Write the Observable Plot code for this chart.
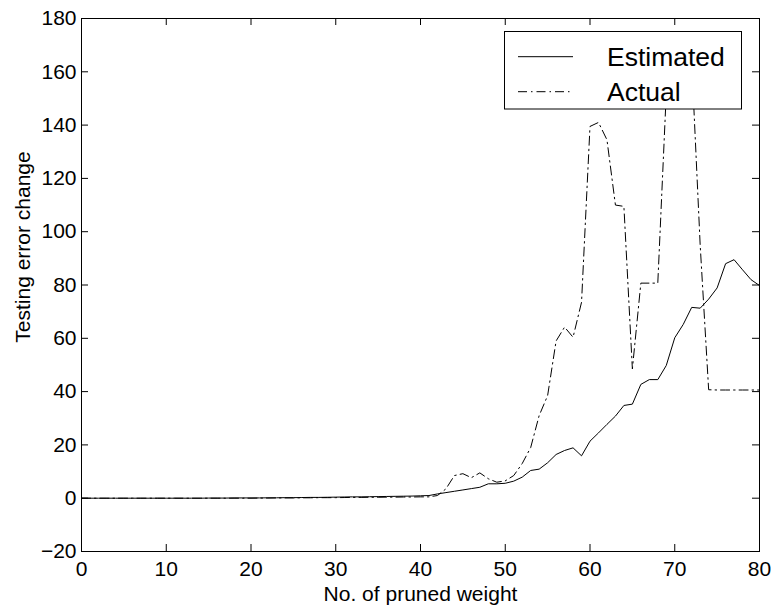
<!DOCTYPE html>
<html><head><meta charset="utf-8">
<script src="https://cdn.jsdelivr.net/npm/d3@7"></script>
<script src="https://cdn.jsdelivr.net/npm/@observablehq/plot@0.6"></script>
<style>html,body{margin:0;padding:0;background:#fff}</style>
</head><body><div id="chart"></div>
<script>
const xValues = d3.range(0, 81);
const estimated = [
  0,0,0,0,0,0,0,0,0,0,0,
  0,0,0,0,0.05,0.05,0.05,0.1,0.1,0.1,
  0.1,0.15,0.15,0.2,0.2,0.25,0.3,0.3,0.35,0.4,
  0.45,0.5,0.5,0.55,0.6,0.65,0.7,0.75,0.8,0.9,
  1.0,1.6,2.1,2.6,3.1,3.6,4.1,5.4,5.4,5.6,
  6.4,7.9,10.4,10.9,13.3,16.4,17.9,18.9,15.9,21.4,
  24.5,27.7,30.8,34.8,35.3,42.7,44.5,44.5,49.8,60.2,
  65.2,71.6,71.3,74.7,78.9,88,89.5,85.7,82,79.8
];
const actual = [
  0,0,0,0,0,0,0,0,0,0,0,
  0,0,0,0,0,0,0,0,0,0,
  0.05,0.05,0.1,0.1,0.1,0.15,0.15,0.2,0.2,0.2,
  0.25,0.3,0.3,0.35,0.35,0.4,0.4,0.45,0.45,0.5,
  0.5,1.0,3.5,8.5,9.2,7.7,9.5,7.3,6.0,6.5,
  8.5,13,19,31,38.5,59,64.2,60.4,73.5,139.5,
  141,134.5,110,109.5,48.5,80.7,80.7,80.7,152,160,
  162,164,95,40.7,40.6,40.6,40.6,40.6,40.6,40.6
];
const seriesNames = ["Estimated", "Actual"];
const xTicks = [0,10,20,30,40,50,60,70,80];
const yTicks = [-20,0,20,40,60,80,100,120,140,160,180];
const xLabel = "No. of pruned weight";
const yLabel = "Testing error change";

const W = 775, H = 610, mL = 81, mR = 16, mT = 18, mB = 59;
const plotW = W - mL - mR, plotH = H - mT - mB, tickLen = 7;
const font = "'Liberation Sans', Arial, Helvetica, sans-serif";

const rows = xValues.flatMap((x, i) => [
  {x, y: estimated[i], s: seriesNames[0]},
  {x, y: actual[i], s: seriesNames[1]}
]);

const chart = Plot.plot({
  width: W, height: H,
  marginLeft: mL, marginRight: mR, marginTop: mT, marginBottom: mB,
  x: {domain: [0, 80]},
  y: {domain: [-20, 180]},
  style: {fontFamily: font, fontSize: "21px", color: "#000", background: "#fff", overflow: "visible"},
  marks: [
    Plot.line(rows.filter(d => d.s === "Actual"), {x: "x", y: "y", stroke: "#000", strokeWidth: 1, strokeDasharray: "9,4,1.5,4"}),
    Plot.line(rows.filter(d => d.s === "Estimated"), {x: "x", y: "y", stroke: "#000", strokeWidth: 1}),
    Plot.tickX(xTicks, {x: d => d, insetTop: plotH - tickLen, stroke: "#000"}),
    Plot.tickX(xTicks, {x: d => d, insetBottom: plotH - tickLen, stroke: "#000"}),
    Plot.tickY(yTicks, {y: d => d, insetRight: plotW - tickLen, stroke: "#000"}),
    Plot.tickY(yTicks, {y: d => d, insetLeft: plotW - tickLen, stroke: "#000"}),
    Plot.axisX(xTicks, {tickSize: 0, tickPadding: 10, label: null, fontSize: 21}),
    Plot.axisY(yTicks, {tickSize: 0, tickPadding: 5, label: null, fontSize: 21}),
    Plot.frame({stroke: "#000", strokeWidth: 1}),
    Plot.text([xLabel], {frameAnchor: "bottom", lineAnchor: "middle", textAnchor: "middle", dy: 43, fontSize: 21}),
    Plot.text([yLabel], {frameAnchor: "left", lineAnchor: "middle", textAnchor: "middle", rotate: -90, dx: -58, dy: -38, fontSize: 21})
  ]
});

// legend
const svg = d3.select(chart);
const lg = svg.append("g").attr("font-family", font).attr("font-size", 26.5).attr("text-anchor", "start");
lg.append("rect").attr("x", 504.5).attr("y", 31.5).attr("width", 237).attr("height", 77.5)
  .attr("fill", "#fff").attr("stroke", "#000").attr("stroke-width", 1);
const dashes = [null, "9,4,1.5,4"];
seriesNames.forEach((name, i) => {
  const cy = 56.7 + i * 35;
  lg.append("line").attr("x1", 518).attr("x2", 573).attr("y1", cy).attr("y2", cy)
    .attr("stroke", "#000").attr("stroke-width", 1).attr("stroke-dasharray", dashes[i]);
  lg.append("text").attr("x", 607).attr("y", cy + 9.3).attr("fill", "#000")
    .attr("text-anchor", "start").text(name);
});

document.getElementById("chart").appendChild(chart);
</script>
</body></html>
